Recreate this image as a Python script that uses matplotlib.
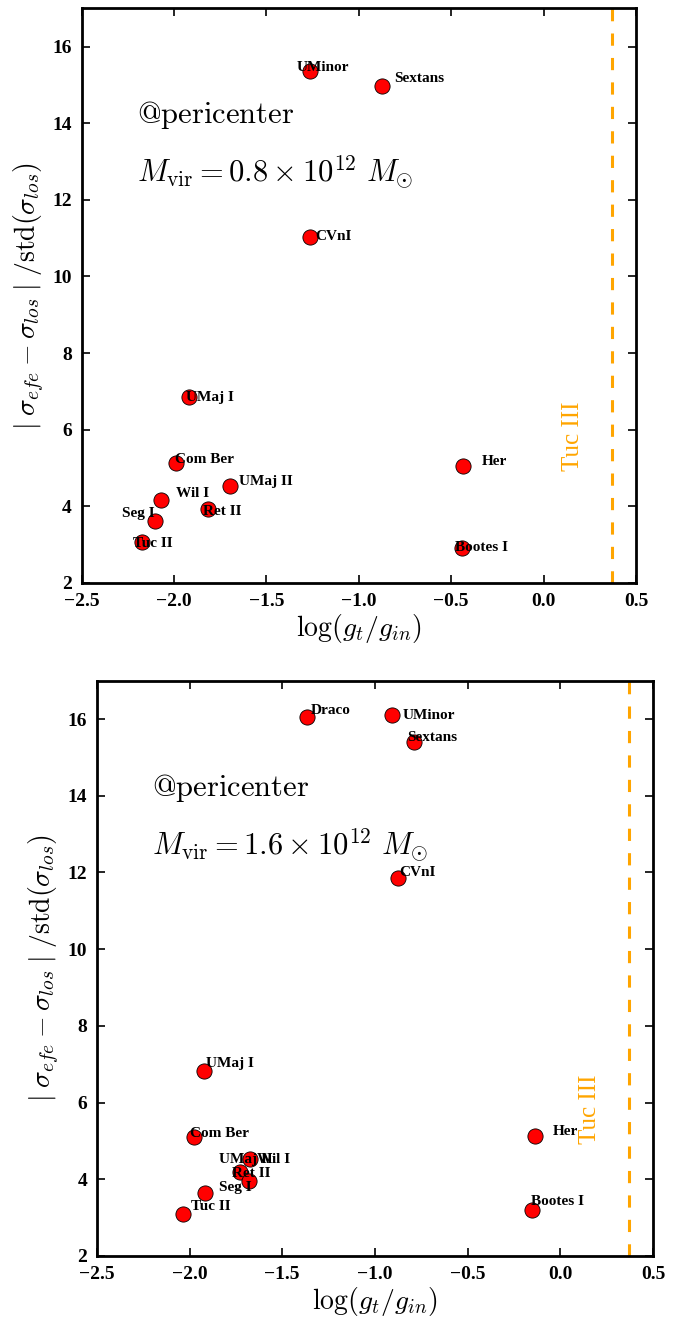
import matplotlib
matplotlib.use("Agg")
import matplotlib.pyplot as plt

plt.rcParams["mathtext.fontset"] = "cm"
plt.rcParams["font.family"] = ["Liberation Serif", "DejaVu Serif"]

# --- M_vir = 0.8e12 panel ---
names_08 = ["UMinor", "Sextans", "CVnI", "UMaj I", "Com Ber", "Wil I",
            "UMaj II", "Ret II", "Seg I", "Tuc II", "Her", "Bootes I"]
x_08 = [-1.264, -0.876, -1.267, -1.920, -1.987, -2.070,
        -1.698, -1.815, -2.103, -2.171, -0.438, -0.444]
y_08 = [15.37, 14.98, 11.03, 6.86, 5.13, 4.17,
        4.53, 3.93, 3.63, 3.08, 5.05, 2.92]
# label offsets in pixels (right, up) from each point
offs_08 = [(-13, 0), (12, 4), (6, -3), (-3, -4), (-1, 0), (15, 3),
           (9, 1), (-5, -6), (-33, 4), (-9, -5), (19, 1), (-7, -3)]

# --- M_vir = 1.6e12 panel ---
names_16 = ["Draco", "UMinor", "Sextans", "CVnI", "UMaj I", "Com Ber",
            "UMaj II", "Wil I", "Ret II", "Seg I", "Tuc II", "Her", "Bootes I"]
x_16 = [-1.368, -0.907, -0.790, -0.878, -1.922, -1.976,
        -1.674, -1.728, -1.680, -1.917, -2.036, -0.138, -0.154]
y_16 = [16.05, 16.11, 15.40, 11.85, 6.83, 5.10,
        4.53, 4.19, 3.96, 3.64, 3.10, 5.14, 3.20]
offs_16 = [(4, 3), (10, -4), (-7, 1), (2, 2), (2, 4), (-4, 0),
           (-31, -4), (17, 9), (-17, 4), (14, 2), (8, 4), (18, 1), (-1, 5)]

tuc3_x = 0.37
mvir_labels = [r"$M_{\rm vir} = 0.8\times 10^{12}\ M_{\odot}$",
               r"$M_{\rm vir} = 1.6\times 10^{12}\ M_{\odot}$"]


def draw_panel(ax, xs, ys, names, offs, mlabel):
    ax.scatter(xs, ys, s=120, c="red", edgecolors="black", linewidths=0.6, zorder=3)
    for x, y, n, (dx, dy) in zip(xs, ys, names, offs):
        ax.annotate(n, (x, y), xytext=(dx, dy), textcoords="offset pixels",
                    fontsize=11, fontweight="bold", ha="left", va="baseline", zorder=4)
    ax.axvline(tuc3_x, color="orange", ls="--", lw=2.2, dashes=(4, 4))
    ax.text(0.16, 5.82, "Tuc III", color="orange", rotation=90, fontsize=18,
            ha="center", va="center")
    ax.text(-2.2, 14.0, r"$\mathrm{@pericenter}$", fontsize=22, ha="left", va="baseline")
    ax.text(-2.2, 12.47, mlabel, fontsize=22, ha="left", va="baseline")

    ax.set_xlim(-2.5, 0.5)
    ax.set_ylim(2, 17)
    ax.set_xticks([-2.5, -2.0, -1.5, -1.0, -0.5, 0.0, 0.5])
    ax.set_yticks([2, 4, 6, 8, 10, 12, 14, 16])
    ax.tick_params(direction="in", top=True, right=True, length=6, width=1.2,
                   labelsize=14, pad=7)
    for lab in ax.get_xticklabels() + ax.get_yticklabels():
        lab.set_fontweight("bold")
    for sp in ax.spines.values():
        sp.set_linewidth(2)
    ax.set_xlabel(r"$\log(g_t/g_{in})$", fontsize=20, labelpad=2)
    ax.set_ylabel(r"$|\;\sigma_{efe}-\sigma_{los}\;|\;/\mathrm{std}(\sigma_{los})$",
                  fontsize=20, labelpad=4)


fig = plt.figure(figsize=(6.94, 13.19), dpi=100)
ax1 = fig.add_axes([0.1177, 0.558, 0.7987, 0.4357])
ax2 = fig.add_axes([0.1396, 0.0478, 0.8013, 0.4361])

draw_panel(ax1, x_08, y_08, names_08, offs_08, mvir_labels[0])
draw_panel(ax2, x_16, y_16, names_16, offs_16, mvir_labels[1])

fig.savefig("out.png", dpi=100)
